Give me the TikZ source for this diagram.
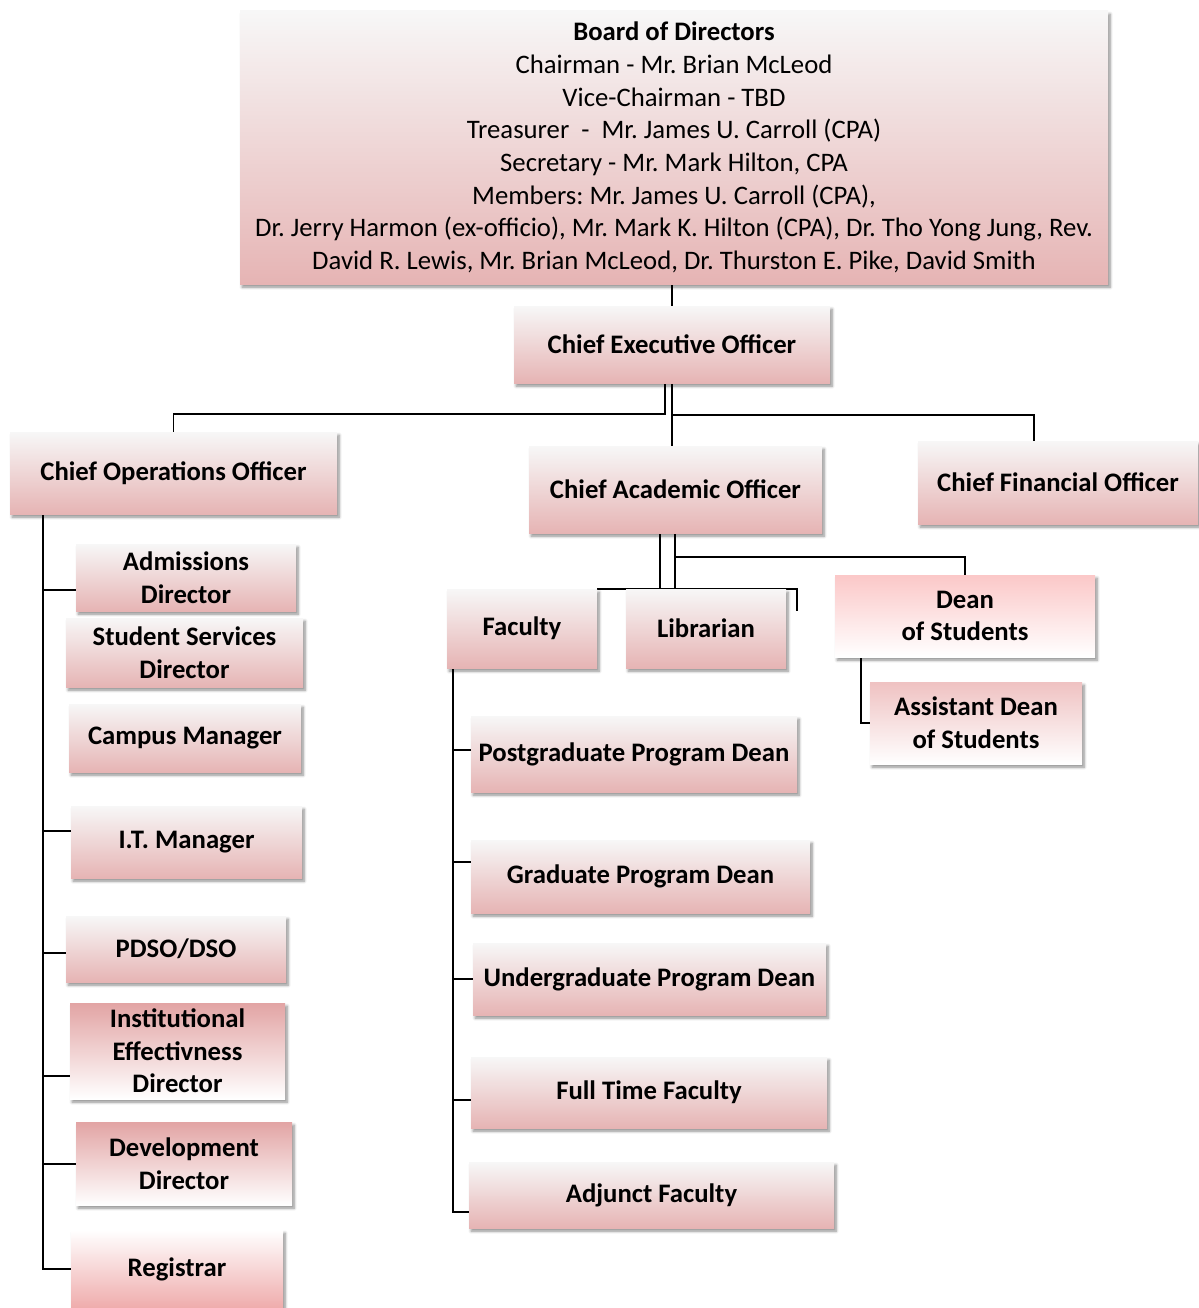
\documentclass[tikz,border=0pt]{standalone}
\usepackage{fontspec}
\setmainfont{Carlito}
\usepackage{tikz}
\usetikzlibrary{shadows.blur}
\usetikzlibrary{backgrounds}
\frenchspacing
\definecolor{boxtop}{HTML}{F7F7F7}
\definecolor{boxbot}{HTML}{E6B4B4}
\definecolor{deantop}{HTML}{FBC8C8}
\definecolor{asstop}{HTML}{EFC2C2}
\definecolor{insttop}{HTML}{E2A4A4}
\definecolor{regbot}{HTML}{EFACAC}
\tikzset{
  org/.style={rectangle, align=center, inner sep=1pt,
    font=\fontsize{19}{23.2}\selectfont\bfseries,
    top color=boxtop, bottom color=boxbot,
    blur shadow={shadow xshift=1.5pt, shadow yshift=-2.2pt,
      shadow blur radius=2pt, shadow blur steps=6, shadow opacity=45}},
  fade/.style={top color=#1, bottom color=white},
  boxsize/.style 2 args={minimum width=#1*0.025cm, minimum height=#2*0.025cm},
  link/.style={line width=1.3pt}
}

\begin{document}
\begin{tikzpicture}[x=0.025cm, y=-0.025cm]
  \useasboundingbox (0,0) rectangle (1198,1308);

  % top of the chart
  \node[org, boxsize={868}{273}, font=\fontsize{19}{23.2}\selectfont] at (674,147.5) (board)
    {\textbf{Board of Directors}\\
     Chairman - Mr. Brian McLeod\\
     Vice-Chairman - TBD\\
     Treasurer~ -~ Mr. James U. Carroll (CPA)\\
     Secretary - Mr. Mark Hilton, CPA\\
     Members: Mr. James U. Carroll (CPA),\\
     Dr. Jerry Harmon (ex-officio), Mr. Mark K. Hilton (CPA), Dr. Tho Yong Jung, Rev.\\
     David R. Lewis, Mr. Brian McLeod, Dr. Thurston E. Pike, David Smith};
  \node[org, boxsize={316}{77}] at (672,344.5) (ceo) {Chief Executive Officer};

  \node[org, boxsize={327}{82}] at (173.5,473) (coo) {Chief Operations Officer};
  \node[org, boxsize={293}{87}] at (675.5,489.5) (cao) {Chief Academic Officer};
  \node[org, boxsize={280}{83}] at (1058,482.5) (cfo) {Chief Financial Officer};

  % operations
  \node[org, boxsize={220}{67}] at (186,577.5) (adm) {Admissions\\Director};
  \node[org, boxsize={237}{69}] at (184.5,652.5) (stu) {Student Services\\Director};
  \node[org, boxsize={232}{68}] at (185,738) (cam) {Campus Manager};
  \node[org, boxsize={231}{72}] at (186.5,842) (itm) {I.T. Manager};
  \node[org, boxsize={220}{66}] at (176,949) (pdso) {PDSO/DSO};
  \node[org, fade=insttop, boxsize={215}{96}] at (177.5,1051) (inst) {Institutional\\Effectivness\\Director};
  \node[org, fade=insttop, boxsize={216}{83}] at (184,1163.5) (dev) {Development\\Director};
  \node[org, top color=white, bottom color=regbot, boxsize={212}{78}] at (177,1269) (reg) {Registrar};

  % academics
  \node[org, boxsize={150}{79}] at (522,628.5) (fac) {Faculty};
  \node[org, boxsize={160}{79}] at (706,628.5) (lib) {Librarian};
  \node[org, fade=deantop, boxsize={260}{82}] at (965,616) (dean) {Dean\\of Students};
  \node[org, fade=asstop, boxsize={212}{82}] at (976,723) (asst) {Assistant Dean\\of Students};

  \node[org, boxsize={326}{76}] at (634,754) (pg) {Postgraduate Program Dean};
  \node[org, boxsize={339}{73}] at (640.5,876.5) (gd) {Graduate Program Dean};
  \node[org, boxsize={353}{72}] at (649.5,979) (ug) {Undergraduate Program Dean};
  \node[org, boxsize={356}{71}] at (649,1092.5) (ft) {Full Time Faculty};
  \node[org, boxsize={365}{66}] at (651.5,1195) (adj) {Adjunct Faculty};

  \coordinate (jl) at (665,414);
  \coordinate (jr) at (1034,415);
  \coordinate (jf) at (660,590);
  \coordinate (jd) at (675,557);
  \coordinate (lr) at (797,611);
  \coordinate (ox) at (43,0);
  \coordinate (fx) at (453,0);
  \coordinate (dx) at (861,0);

  \begin{scope}[on background layer]
    \draw[link] (ceo.north) -- (ceo.north |- board.south);
    \draw[link] (ceo.south -| jl) -- (jl) -| (coo.north);
    \draw[link] (ceo.south) -- (ceo.south |- cao.north);
    \draw[link] (ceo.south |- jr) -- (jr) -- (jr |- cfo.north);

    \draw[link] (cao.south -| jf) -- (jf);
    \draw[link] (fac.north east) -| (lr);
    \draw[link] (cao.south -| jd) -- (jd |- lib.north);
    \draw[link] (jd) -| (dean.north);
    \draw[link] (dean.south -| dx) |- (asst.west);

    \foreach \n/\y in {adm/590, itm/831, pdso/953, inst/1076, dev/1164, reg/1269}
      \draw[link] (coo.south -| ox) |- (\n.west |- 0,\y);

    \foreach \n/\y in {pg/750, gd/862, ug/979, ft/1100, adj/1212}
      \draw[link] (fac.south -| fx) |- (\n.west |- 0,\y);
  \end{scope}
\end{tikzpicture}
\end{document}
